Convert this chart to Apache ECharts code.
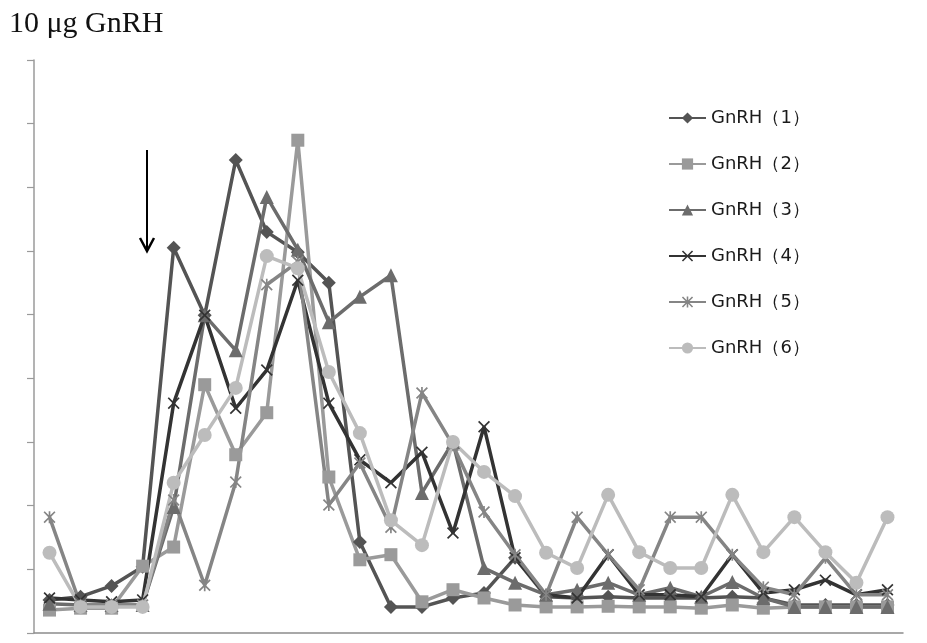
<!DOCTYPE html>
<html>
<head>
<meta charset="utf-8">
<script src="https://cdn.jsdelivr.net/npm/echarts@6/dist/echarts.min.js"></script>
<style>
  html, body { margin: 0; padding: 0; background: #fff; }
  #chart { width: 927px; height: 643px; }
</style>
</head>
<body>
<div id="chart"></div>
<script>
    // 28 sampling points, no labels on the axes
    let samples = [];
    for (let i = 1; i <= 28; i++) samples.push(String(i));

    let names = ['GnRH（1）', 'GnRH（2）', 'GnRH（3）', 'GnRH（4）', 'GnRH（5）', 'GnRH（6）'];

    let gnrh1 = [5.2, 5.7, 7.4, 10.4, 60.5, 49.9, 74.3, 63.0, 59.8, 55.0, 14.3, 4.1, 4.1, 5.5,
                 6.3, 11.8, 5.7, 5.5, 5.7, 5.5, 5.5, 5.5, 5.7, 5.5, 4.4, 4.4, 4.4, 4.4];
    let gnrh2 = [3.6, 3.9, 3.9, 10.5, 13.5, 39.0, 28.0, 34.6, 77.4, 24.5, 11.5, 12.3, 4.9, 6.8,
                 5.5, 4.4, 4.1, 4.1, 4.2, 4.1, 4.1, 3.9, 4.4, 3.9, 4.1, 4.1, 4.1, 4.1];
    let gnrh3 = [4.6, 4.4, 4.4, 4.4, 19.8, 49.9, 44.4, 68.5, 60.2, 48.8, 52.8, 56.2, 22.0, 30.0,
                 10.2, 7.9, 6.0, 6.8, 7.9, 6.0, 7.1, 5.7, 8.0, 5.5, 4.1, 4.1, 4.1, 4.1];
    let gnrh4 = [5.5, 5.2, 4.9, 5.2, 36.1, 49.9, 35.3, 41.3, 55.4, 36.1, 27.2, 23.6, 28.4, 15.7,
                 32.4, 11.8, 6.0, 5.5, 12.3, 6.0, 6.0, 5.7, 12.3, 6.3, 6.8, 8.3, 6.0, 6.8];
    let gnrh5 = [18.2, 4.4, 4.4, 4.4, 20.9, 7.5, 23.7, 54.7, 58.3, 20.1, 26.7, 16.6, 37.7, 29.5,
                 19.0, 12.3, 6.0, 18.2, 12.3, 6.8, 18.2, 18.2, 12.3, 7.2, 6.0, 11.8, 6.0, 6.0];
    let gnrh6 = [12.6, 4.1, 4.1, 4.1, 23.6, 31.1, 38.5, 59.2, 57.3, 41.0, 31.4, 17.7, 13.8, 30.0,
                 25.3, 21.5, 12.6, 10.2, 21.7, 12.7, 10.2, 10.2, 21.7, 12.7, 18.2, 12.7, 7.9, 18.2];

    let yMin = 0, yMax = 90, yStep = 10;

    let colors = ['#545454', '#9a9a9a', '#6c6c6c', '#333333', '#858585', '#bcbcbc'];
    let xMark = 'path://M0,1L1,0L5,4L9,0L10,1L6,5L10,9L9,10L5,6L1,10L0,9L4,5Z';
    let starMark = 'path://M0,1L1,0L5,4L9,0L10,1L6,5L10,9L9,10L5,6L1,10L0,9L4,5Z M4.3,0L5.7,0L5.7,10L4.3,10Z';
    let symbols = ['diamond', 'rect', 'triangle', xMark, starMark, 'circle'];
    let sizes = [14, 13, 14, 12, 12, 14];

    function makeSeries(data, n){
        return {
            name: names[n],
            type: 'line',
            data: data,
            symbol: symbols[n],
            symbolSize: sizes[n],
            symbolKeepAspect: true,
            lineStyle: { color: colors[n], width: 3.5 },
            itemStyle: { color: colors[n] },
            emphasis: { disabled: true }
        };
    }

    let myChart = echarts.init(document.getElementById('chart'));
    myChart.setOption({
        animation: false,
        color: colors,
        title: {
            text: '10 μg GnRH',
            left: 4,
            top: 4,
            textStyle: { fontFamily: 'Liberation Serif', fontSize: 30, fontWeight: 'normal', color: '#111' }
        },
        legend: {
            orient: 'vertical',
            left: 663,
            top: 104,
            itemGap: 28,
            itemWidth: 37,
            itemHeight: 14,
            textStyle: { fontFamily: 'DejaVu Sans', fontSize: 18, color: '#1a1a1a' },
            data: names
        },
        grid: { left: 34, right: 24, top: 60, bottom: 10 },
        xAxis: {
            type: 'category',
            data: samples,
            boundaryGap: true,
            axisLine: { lineStyle: { color: '#8c8c8c', width: 1.5 } },
            axisTick: { length: 7, lineStyle: { color: '#8c8c8c', width: 1.5 } },
            axisLabel: { show: false }
        },
        yAxis: {
            type: 'value',
            min: yMin,
            max: yMax,
            interval: yStep,
            splitLine: { show: false },
            axisLine: { show: true, lineStyle: { color: '#9a9a9a', width: 1.5 } },
            axisTick: { show: true, length: 7, lineStyle: { color: '#9a9a9a', width: 1.2 } },
            axisLabel: { show: false }
        },
        graphic: [
            { type: 'line', shape: { x1: 147, y1: 150, x2: 147, y2: 250 }, style: { stroke: '#000', lineWidth: 2 } },
            { type: 'polyline', shape: { points: [[140, 238], [147, 251], [154, 238]] },
              style: { stroke: '#000', lineWidth: 2.5, fill: null } }
        ],
        series: [gnrh1, gnrh2, gnrh3, gnrh4, gnrh5, gnrh6].map(makeSeries)
    });
</script>
</body>
</html>
